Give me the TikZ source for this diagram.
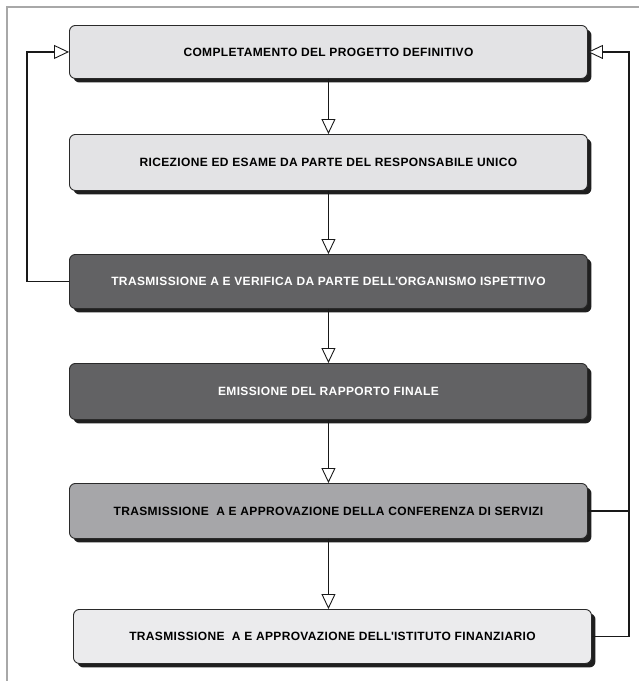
\documentclass[tikz,border=0pt]{standalone}
\usepackage{fontspec}
\setmainfont{Liberation Sans}
\newfontfamily\boxfont[LetterSpace=3]{Liberation Sans}
\usetikzlibrary{arrows.meta,shadows}
\definecolor{framegray}{HTML}{A8A8A8}
\definecolor{lightbox}{HTML}{E3E3E5}
\definecolor{palebox}{HTML}{EBEBED}
\definecolor{darkbox}{HTML}{626264}
\definecolor{midbox}{HTML}{A6A6A9}
\definecolor{edge}{HTML}{2A2A2A}
\tikzset{
  box/.style={draw=edge, line width=0.9pt, rounded corners=6pt,
    minimum width=518pt, inner sep=0pt, anchor=north west,
    font=\boxfont\fontsize{12}{14}\selectfont\bfseries,
    general shadow={fill=black!88, shadow xshift=4pt, shadow yshift=-4pt}},
  conn/.style={draw=black!90, line width=1.8pt,
    -{Triangle[open, fill=white, length=15pt, width=14pt, line width=0.9pt]}},
  plain/.style={draw=black!90, line width=1.8pt}
}
\begin{document}
\begin{tikzpicture}[x=1pt,y=-1pt]
\useasboundingbox (0,0) rectangle (639,681);
\fill[white] (0,0) rectangle (639,681);
\draw[framegray, line width=1.6pt] (639,7) -- (7,7) -- (7,681);

\node[box, fill=lightbox, minimum height=53pt] (b1) at (69,25) {COMPLETAMENTO DEL PROGETTO DEFINITIVO};
\node[box, fill=lightbox, minimum height=56pt] (b2) at (69,134) {RICEZIONE ED ESAME DA PARTE DEL RESPONSABILE UNICO};
\node[box, fill=darkbox, text=white, minimum height=54pt] (b3) at (69,254) {TRASMISSIONE A E VERIFICA DA PARTE DELL\textquotesingle ORGANISMO ISPETTIVO};
\node[box, fill=darkbox, text=white, minimum height=56pt] (b4) at (69,363) {EMISSIONE DEL RAPPORTO FINALE};
\node[box, fill=midbox, minimum height=55pt] (b5) at (69,483) {TRASMISSIONE\ \ A E APPROVAZIONE DELLA CONFERENZA DI SERVIZI};
\node[box, fill=palebox, minimum height=54pt] (b6) at (73,609) {TRASMISSIONE\ \ A E APPROVAZIONE DELL\textquotesingle ISTITUTO FINANZIARIO};

\coordinate (lt) at (27,0);
\coordinate (rt) at (629,0);

\draw[conn] (b1.south) -- (b2.north);
\draw[conn] (b2.south) -- (b3.north);
\draw[conn] (b3.south) -- (b4.north);
\draw[conn] (b4.south) -- (b5.north);
\draw[conn] (b5.south) -- (b5.south |- b6.north);

\draw[conn] (b3.west) -| (lt |- b3.west) |- (b1.west);
\draw[conn] (b6.east) -- (rt |- b6.east) |- (b1.east);
\draw[plain] (b5.east) -- (rt |- b5.east);
\end{tikzpicture}
\end{document}
